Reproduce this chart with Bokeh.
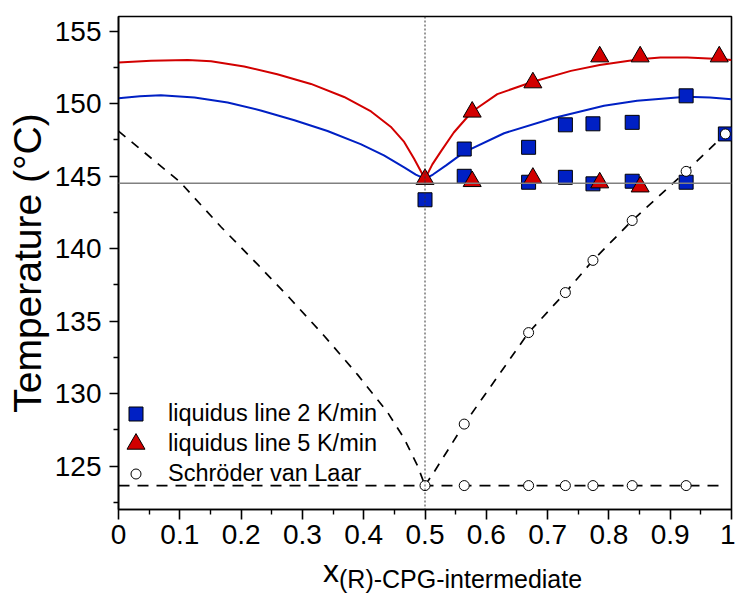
from bokeh.plotting import figure
from bokeh.layouts import column
from bokeh.models import Range1d, FixedTicker, Span, Legend, LegendItem, Div
from bokeh.embed import file_html
from bokeh.resources import INLINE

FONT = "Liberation Sans"

# ---------------- data ----------------
# liquidus line 2 K/min (blue squares)
sq_x = [0.5, 0.564, 0.564, 0.669, 0.669, 0.729, 0.729, 0.774, 0.774, 0.838, 0.838, 0.926, 0.926, 0.99]
sq_T = [143.36, 146.86, 144.98, 146.98, 144.57, 148.53, 144.91, 148.6, 144.46, 148.7, 144.64, 150.53, 144.57, 147.9]

# liquidus line 5 K/min (red triangles)
tri_x = [0.5, 0.577, 0.577, 0.676, 0.676, 0.785, 0.785, 0.851, 0.851, 0.98]
tri_T = [144.78, 149.42, 144.63, 151.44, 144.86, 153.23, 144.54, 153.23, 144.26, 153.23]

# Schroeder van Laar points (open circles)
svl_x = [0.5, 0.564, 0.669, 0.729, 0.774, 0.838, 0.926, 0.564, 0.669, 0.729, 0.774, 0.838, 0.926, 0.99]
svl_T = [123.65, 123.65, 123.65, 123.65, 123.65, 123.65, 123.65, 127.89, 134.2, 136.96, 139.18, 141.93, 145.32, 147.9]

# fitted liquidus curves
fit2_x = [0.0, 0.035, 0.069, 0.124, 0.178, 0.232, 0.287, 0.341, 0.395, 0.433, 0.466, 0.485, 0.5,
          0.513, 0.535, 0.564, 0.629, 0.710, 0.792, 0.846, 0.926, 0.965, 1.0]
fit2_T = [150.37, 150.5, 150.57, 150.41, 150.07, 149.52, 148.85, 148.1, 147.2, 146.42, 145.6, 145.1, 144.8,
          145.1, 145.75, 146.65, 147.95, 149.0, 149.84, 150.19, 150.46, 150.42, 150.3]

fit5_x = [0.0, 0.053, 0.113, 0.151, 0.205, 0.259, 0.314, 0.368, 0.412, 0.444, 0.466, 0.482, 0.5,
          0.512, 0.526, 0.547, 0.577, 0.618, 0.676, 0.738, 0.785, 0.850, 0.884, 0.928, 0.980, 1.0]
fit5_T = [152.82, 152.94, 153.0, 152.92, 152.55, 152.02, 151.35, 150.45, 149.45, 148.4, 147.35, 146.2, 144.8,
          145.8, 146.7, 148.0, 149.45, 150.65, 151.5, 152.25, 152.66, 153.05, 153.18, 153.17, 153.07, 153.0]

# Schroeder van Laar curves (dashed)
svl_left_x = [0.0, 0.1, 0.167, 0.227, 0.281, 0.335, 0.390, 0.439, 0.466, 0.488, 0.5]
svl_left_T = [148.1, 144.6, 141.5, 138.9, 136.5, 134.0, 131.3, 128.7, 126.9, 125.0, 123.65]
svl_right_x = [0.5, 0.515, 0.564, 0.669, 0.729, 0.774, 0.838, 0.926, 0.99]
svl_right_T = [123.65, 124.6, 127.89, 134.2, 136.96, 139.18, 141.93, 145.32, 147.9]
eut_x = [0.0, 0.985]
eut_T = [123.65, 123.65]

solidus_T = 144.5
racemate_x = 0.5

x_ticks = [0.0, 0.1, 0.2, 0.3, 0.4, 0.5, 0.6, 0.7, 0.8, 0.9, 1.0]
x_tick_labels = ["0", "0.1", "0.2", "0.3", "0.4", "0.5", "0.6", "0.7", "0.8", "0.9", "1"]
x_minor = [0.05, 0.15, 0.25, 0.35, 0.45, 0.55, 0.65, 0.75, 0.85, 0.95]
y_ticks = [125, 130, 135, 140, 145, 150, 155]
y_minor = [122.5, 127.5, 132.5, 137.5, 142.5, 147.5, 152.5]

RED = "#d20000"
BLUE = "#0020c4"

# ---------------- main figure ----------------
p = figure(width=735, height=554, output_backend="svg", toolbar_location=None,
           x_range=Range1d(0, 1), y_range=Range1d(122, 156),
           min_border_left=118, min_border_right=4, min_border_top=16, min_border_bottom=45)
p.background_fill_color = "white"
p.border_fill_color = "white"
p.grid.visible = False
p.outline_line_color = "black"
p.outline_line_width = 1.6

for ax in (p.xaxis[0], p.yaxis[0]):
    ax.axis_line_width = 1.6
    ax.major_tick_line_width = 1.6
    ax.minor_tick_line_width = 1.4
    ax.major_tick_in = 0
    ax.minor_tick_in = 0
    ax.major_label_text_font = FONT
    ax.major_label_text_font_size = "28px"
    ax.major_label_text_color = "black"
    ax.axis_label_text_font = FONT
    ax.axis_label_text_font_style = "normal"
    ax.axis_label_text_color = "black"

p.xaxis.ticker = FixedTicker(ticks=x_ticks, minor_ticks=x_minor)
p.xaxis.major_label_overrides = dict(zip(x_ticks, x_tick_labels))
p.xaxis.major_tick_out = 10
p.xaxis.minor_tick_out = 5
p.xaxis.major_label_standoff = 5

p.yaxis.ticker = FixedTicker(ticks=y_ticks, minor_ticks=y_minor)
p.yaxis.major_tick_out = 9
p.yaxis.minor_tick_out = 5
p.yaxis.major_label_standoff = 8
p.yaxis.axis_label = "Temperature (°C)"
p.yaxis.axis_label_text_font_size = "39px"
p.yaxis.axis_label_standoff = 3

# reference lines
p.add_layout(Span(location=solidus_T, dimension="width", line_color="#808080", line_width=1.6))
p.add_layout(Span(location=racemate_x, dimension="height", line_color="#333333", line_width=1,
                  line_dash="2 2"))

# curves
p.line(svl_left_x, svl_left_T, line_color="black", line_width=1.7, line_dash="9 8")
p.line(svl_right_x, svl_right_T, line_color="black", line_width=1.7, line_dash="9 8")
p.line(eut_x, eut_T, line_color="black", line_width=1.7, line_dash="11 8")
p.line(fit2_x, fit2_T, line_color=BLUE, line_width=2)
p.line(fit5_x, fit5_T, line_color=RED, line_width=2)

# markers
r_sq = p.scatter(sq_x, sq_T, marker="square", size=14, fill_color=BLUE, line_color="black", line_width=1)
r_tri = p.scatter(tri_x, tri_T, marker="triangle", size=18, fill_color=RED, line_color="black", line_width=1)
r_svl = p.scatter(svl_x, svl_T, marker="circle", size=10, fill_color="white", line_color="black", line_width=1)

# legends (one per entry so the symbols keep their own sizes)
entries = [("liquidus line 2 K/min", r_sq, 35, (0, 78.5), 15),
           ("liquidus line 5 K/min", r_tri, 45, (-5, 43.3), 10),
           ("Schröder van Laar", r_svl, 25, (5, 22.5), 20)]
for text, rend, box, loc, standoff in entries:
    lg = Legend(items=[LegendItem(label=text, renderers=[rend])], location=loc,
                glyph_width=box, glyph_height=box, label_height=box, label_standoff=standoff,
                padding=0, margin=0, spacing=0, border_line_color=None, background_fill_alpha=0,
                label_text_font=FONT, label_text_font_size="23.5px", label_text_color="black")
    p.add_layout(lg)

# ---------------- x-axis title (x with subscript) ----------------
x_title_html = (
    '<div style="position:relative;width:735px;height:40px;font-family:\'Liberation Sans\';color:black;">'
    '<span style="position:absolute;left:323px;top:1px;font-size:32px;line-height:32px;">x</span>'
    '<span style="position:absolute;left:339px;top:13px;font-size:25px;line-height:25px;">'
    '(R)-CPG-intermediate</span></div>'
)
xtitle = Div(text=x_title_html, width=735, height=40, margin=0)

layout = column(p, xtitle, spacing=0)
open("out.html", "w").write(file_html(layout, INLINE))
